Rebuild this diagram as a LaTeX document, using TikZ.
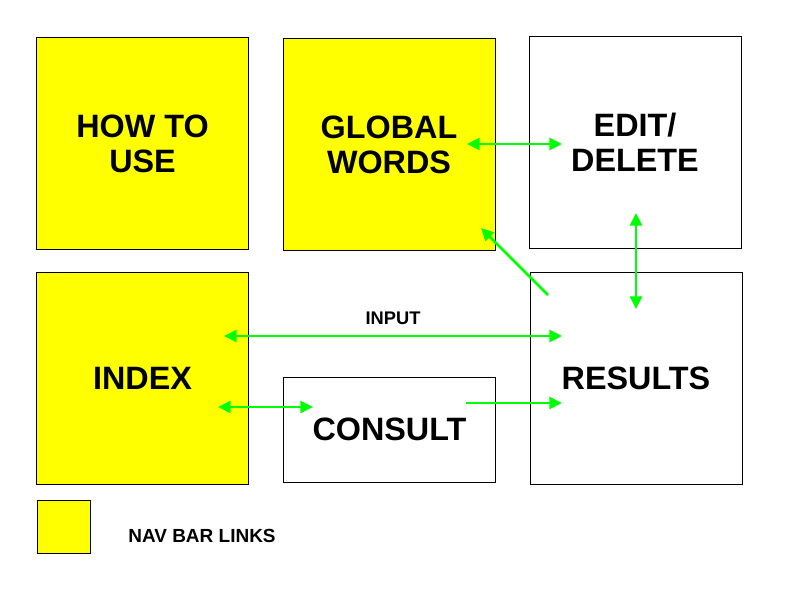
\documentclass[tikz,border=0pt]{standalone}
\usepackage{fontspec}
\setmainfont{Liberation Sans}
\usetikzlibrary{arrows.meta}
\definecolor{navyellow}{RGB}{255,255,0}
\definecolor{linkgreen}{RGB}{0,255,0}
\tikzset{
	pagebox/.style = {draw, line width=0.6pt, inner sep=0pt, align=center,
		minimum width=5.3cm, minimum height=5.3cm,
		font=\bfseries\fontsize{23}{25}\selectfont},
	navbox/.style = {pagebox, fill=navyellow},
	link/.style = {draw=linkgreen, line width=2pt, {Triangle[length=9pt,width=8.5pt]}-{Triangle[length=9pt,width=8.5pt]}},
	onelink/.style = {link, -{Triangle[length=9pt,width=8.5pt]}}
}

\begin{document}
\begin{tikzpicture}[x=0.025cm, y=-0.025cm]
		\useasboundingbox (0,0) rectangle (800,600);
		% top row
		\node (howto) [navbox] at (142.5,143.5) {HOW TO\\USE};
		\node (global) [navbox] at (389,144.5) {GLOBAL\\WORDS};
		\node (edit) [pagebox] at (635,142.5) {EDIT/\\DELETE};
		% bottom row
		\node (index) [navbox] at (142.5,378) {INDEX};
		\node (consult) [pagebox, minimum height=2.625cm] at (389.5,429.5) {CONSULT};
		\node (results) [pagebox] at (636,378.5) {RESULTS};
		
		% legend
		\node (legend) [navbox, minimum width=1.325cm, minimum height=1.325cm] at (63.5,526.5) {};
		\node (legendtext) [font=\bfseries\fontsize{13.5}{15}\selectfont] at (202,536) {NAV BAR LINKS};
		
		% arrow ends
		\coordinate (gw) at (467,144);
		\coordinate (ed) at (562,144);
		\coordinate (edb) at (636,213);
		\coordinate (rst) at (636,309);
		\coordinate (rsg) at (548,295);
		\coordinate (gwb) at (481,228);
		\coordinate (ixi) at (224,336);
		\coordinate (rsi) at (562,336);
		\coordinate (ixc) at (218,407);
		\coordinate (cni) at (313,407);
		\coordinate (cno) at (466,403);
		\coordinate (rsc) at (562,403);
		
		% arrows
		\draw[link] (gw) -- (ed);
		\draw[link] (edb) -- (rst);
		\draw[onelink] (rsg) -- (gwb);
		\draw[link] (ixi) -- (rsi) node[midway, above=4pt, text=black, font=\bfseries\fontsize{13}{15}\selectfont] (input) {INPUT};
		\draw[link] (ixc) -- (cni);
		\draw[onelink] (cno) -- (rsc);
	\end{tikzpicture}
\end{document}
